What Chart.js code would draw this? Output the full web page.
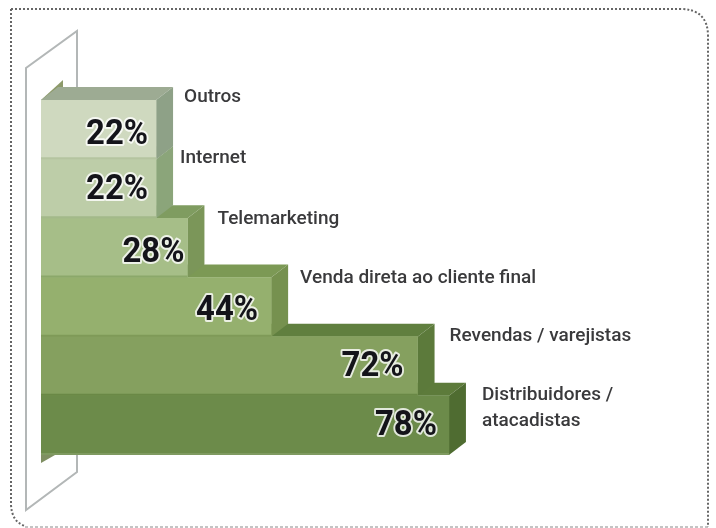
<!DOCTYPE html>
<html>
<head>
<meta charset="utf-8">
<style>html,body{margin:0;padding:0;background:#fff}canvas{display:block;filter:blur(0.4px)}</style>
<script src="https://cdn.jsdelivr.net/npm/chart.js@4/dist/chart.umd.min.js"></script>
</head>
<body>
<canvas id="c" width="716" height="528"></canvas>
<script>
const categories = ["Outros","Internet","Telemarketing","Venda direta ao cliente final","Revendas / varejistas",["Distribuidores /","atacadistas"]];
const shares = [22,22,28,44,72,78];
const frontColors = ["#cfd9bf","#bdcda8","#a6be88","#95b06e","#85a05f","#6c8b4a"];
const topColors = ["#9dab93","#92a682","#7f9c60","#7c9955","#607f3f","#5d7b3b"];
const sideColors = ["#8ea187","#8ba57a","#7b9659","#76914f","#5c7a3b","#4f6c31"];
const lineColors = ["#b5c4a0","#a3b98a","#8ba86a","#7f9a58","#6a8846","#7f9a60"];
const labelDx = [28,24,30,29,32,33];
const labelDy = [-3,-1,1,1,0,-1];
const valueDx = [-8,-8,-3,-13,-14,-12];
const valueDy = [6,1,5,4,1,1];

const DEPTH_X = 17, DEPTH_Y = 13;

function poly(ctx, pts, fill, stroke, lw) {
  ctx.beginPath();
  pts.forEach((p,i)=> i ? ctx.lineTo(p[0],p[1]) : ctx.moveTo(p[0],p[1]));
  ctx.closePath();
  if (fill) { ctx.fillStyle = fill; ctx.fill(); }
  if (stroke) { ctx.strokeStyle = stroke; ctx.lineWidth = lw; ctx.stroke(); }
}

const stagePlugin = {
  id: "stage",
  beforeDatasetsDraw(chart) {
    const ctx = chart.ctx, a = chart.chartArea, bars = chart.getDatasetMeta(0).data;
    ctx.save();
    // dotted frame
    ctx.strokeStyle = "#666"; ctx.lineWidth = 2; ctx.setLineDash([2,2]);
    ctx.beginPath();
    ctx.moveTo(11,9); ctx.lineTo(680,9);
    ctx.quadraticCurveTo(708,9,708,36);
    ctx.lineTo(708,527);
    ctx.stroke();
    ctx.beginPath();
    ctx.moveTo(11,9); ctx.lineTo(11,505);
    ctx.quadraticCurveTo(12,522,25,526);
    ctx.stroke();
    ctx.lineWidth = 1; ctx.strokeStyle = "#888"; ctx.setLineDash([3,2]);
    ctx.beginPath(); ctx.moveTo(25,527); ctx.lineTo(708,527); ctx.stroke();
    ctx.setLineDash([]);
    // wall
    const wl = a.left-15, wr = a.left+36;
    ctx.strokeStyle = "#b3b7b7"; ctx.lineWidth = 2; ctx.lineJoin = "miter";
    ctx.beginPath();
    ctx.moveTo(wr, a.top-12); ctx.lineTo(wr, a.top-69); ctx.lineTo(wl, a.top-32);
    ctx.lineTo(wl, a.bottom+55); ctx.lineTo(wr, a.bottom+17); ctx.lineTo(wr, a.bottom);
    ctx.stroke();
    // slot stubs
    poly(ctx, [[a.left,a.top],[a.left+22,a.top-20],[a.left+22,a.top-12],[a.left+8,a.top]], "#8d9a6a");
    poly(ctx, [[a.left,a.bottom],[a.left,a.bottom+8],[a.left+14,a.bottom]], "#7f8f62");
    // depth faces, lowest step first
    for (let i = bars.length-1; i >= 0; i--) {
      const b = bars[i], h = b.height/2, t = b.y-h, bt = b.y+h, l = a.left, r = b.x;
      poly(ctx, [[l,t],[l+DEPTH_X,t-DEPTH_Y],[r+DEPTH_X,t-DEPTH_Y],[r,t]], topColors[i]);
      poly(ctx, [[r,t],[r+DEPTH_X,t-DEPTH_Y],[r+DEPTH_X,bt-DEPTH_Y],[r,bt]], sideColors[i]);
    }
    ctx.restore();
  },
  afterDatasetsDraw(chart) {
    const ctx = chart.ctx, a = chart.chartArea, bars = chart.getDatasetMeta(0).data;
    ctx.save();
    bars.forEach((b,i)=>{
      const h = b.height/2, t = b.y-h, bt = b.y+h;
      ctx.strokeStyle = lineColors[i]; ctx.lineWidth = 2;
      ctx.beginPath(); ctx.moveTo(a.left,bt-1); ctx.lineTo(b.x,bt-1); ctx.stroke();
      // value
      ctx.font = "700 35px Roboto";
      ctx.textAlign = "right"; ctx.textBaseline = "middle"; ctx.lineJoin = "round";
      ctx.lineWidth = 4; ctx.strokeStyle = "rgba(255,255,255,.8)"; ctx.fillStyle = "#14141a";
      const vx = b.x+valueDx[i], vy = b.y+valueDy[i], txt = shares[i]+"%";
      ctx.strokeText(txt,vx,vy,62); ctx.fillText(txt,vx,vy,62);
      // category label
      ctx.font = "500 19px Roboto";
      ctx.textAlign = "left"; ctx.textBaseline = "middle"; ctx.fillStyle = "#3a3a3c";
      const lines = [].concat(categories[i]);
      lines.forEach((s,k)=> ctx.fillText(s, b.x+labelDx[i], t+labelDy[i]+k*26));
    });
    ctx.restore();
  }
};

new Chart(document.getElementById("c"), {
  type: "bar",
  data: {
    labels: categories,
    datasets: [{ data: shares, backgroundColor: frontColors, borderWidth: 0, barPercentage: 1, categoryPercentage: 1 }]
  },
  options: {
    indexAxis: "y",
    responsive: false,
    animation: false,
    layout: { padding: { left: 41, right: 152, top: 100, bottom: 73 } },
    plugins: { legend: { display: false }, tooltip: { enabled: false } },
    scales: {
      x: { display: false, min: 0, max: 100 },
      y: { display: false }
    }
  },
  plugins: [stagePlugin]
});
</script>
</body>
</html>
